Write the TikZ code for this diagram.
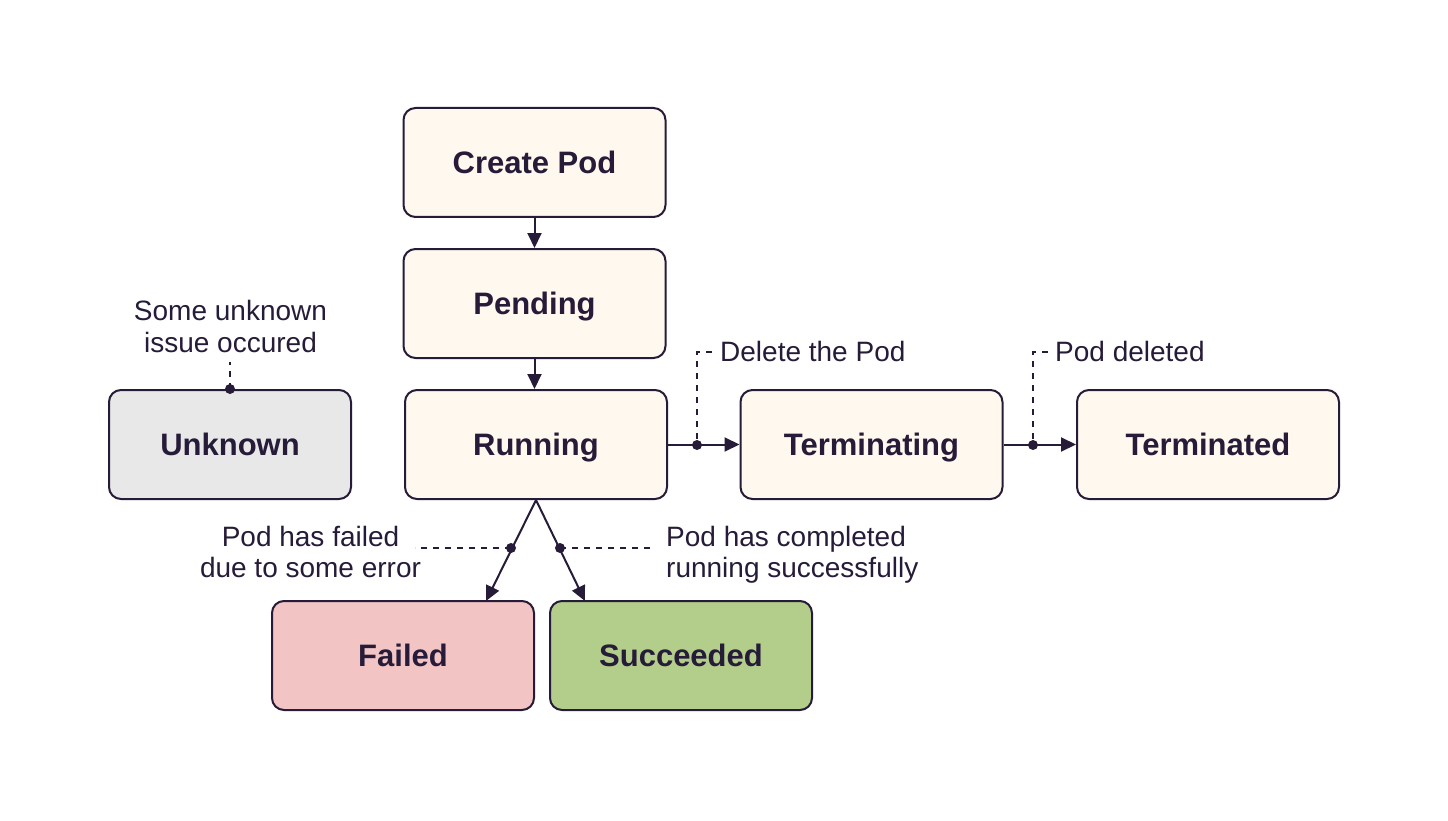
\documentclass[tikz,border=0pt]{standalone}
\usepackage{fontspec}
\setmainfont{Liberation Sans}
\usetikzlibrary{arrows.meta}
\definecolor{ink}{HTML}{261B38}
\definecolor{cream}{HTML}{FFF8EE}
\definecolor{grayfill}{HTML}{E8E8E8}
\definecolor{redfill}{HTML}{F2C4C4}
\definecolor{greenfill}{HTML}{B3CD8A}
\begin{document}
\begin{tikzpicture}[x=1pt,y=-1pt,
 state/.style={draw=ink, line width=2pt, rounded corners=12pt, fill=cream, minimum width=262pt, minimum height=109pt, inner sep=0pt, font=\fontsize{31}{36}\selectfont\bfseries, text=ink, text height=22pt, text depth=0pt},
 conn/.style={draw=ink, line width=2pt, -{Triangle[length=15pt,width=14pt]}},
 note/.style={draw=ink, line width=1.3pt, dash pattern=on 6pt off 6pt},
 dot/.style={circle, fill=ink, inner sep=0pt, minimum size=10pt},
 lbl/.style={font=\fontsize{28}{32}\selectfont, text=ink, inner sep=0pt}]
\useasboundingbox (0,0) rectangle (1448,821);
\fill[white] (0,0) rectangle (1448,821);

\node[state] (create) at (534.5,162.5) {Create Pod};
\node[state] (pending) at (534.5,303.5) {Pending};
\node[state] (running) at (536,444.5) {Running};
\node[state, fill=grayfill, minimum width=242pt] (unknown) at (230,444.5) {Unknown};
\node[state] (terminating) at (871.5,444.5) {Terminating};
\node[state] (terminated) at (1208,444.5) {Terminated};
\node[state, fill=redfill] (failed) at (403,655.5) {Failed};
\node[state, fill=greenfill] (succeeded) at (681,655.5) {Succeeded};

\draw[conn] (create.south) -- (pending.north);
\draw[conn] (pending.south) -- (running.north -| pending.south);
\draw[conn] (running.east) -- (terminating.west);
\draw[conn] (terminating.east) -- (terminated.west);

\coordinate (fa) at (486,601);
\coordinate (sa) at (585,601);
\draw[conn] (running.south) -- (fa);
\draw[conn] (running.south) -- (sa);

% annotations
\node[dot] (d1) at (697,445) {};
\coordinate (d1t) at (712,352);
\draw[note] (d1t) -| (d1.center);
\node[lbl, anchor=base west] (l1) at (720,361) {Delete the Pod};

\node[dot] (d2) at (1033,445) {};
\coordinate (d2t) at (1048,352);
\draw[note] (d2t) -| (d2.center);
\node[lbl, anchor=base west] (l2) at (1055,361) {Pod deleted};

\node[dot] (d3) at (unknown.north) {};
\coordinate (d3t) at (230,362);
\draw[note] (d3.center) -- (d3t);
\node[lbl, anchor=base] (l3a) at (230.5,320) {Some unknown};
\node[lbl, anchor=base] (l3b) at (230.5,352) {issue occured};

\node[dot] (d4) at (511,548) {};
\coordinate (d4t) at (415,548);
\draw[note] (d4.center) -- (d4t);
\node[lbl, anchor=base] (l4a) at (310.5,546) {Pod has failed};
\node[lbl, anchor=base] (l4b) at (310.5,577) {due to some error};

\node[dot] (d5) at (560,548) {};
\coordinate (d5t) at (655,548);
\draw[note] (d5.center) -- (d5t);
\node[lbl, anchor=base west] (l5a) at (666,546) {Pod has completed};
\node[lbl, anchor=base west] (l5b) at (666,577) {running successfully};
\end{tikzpicture}
\end{document}
